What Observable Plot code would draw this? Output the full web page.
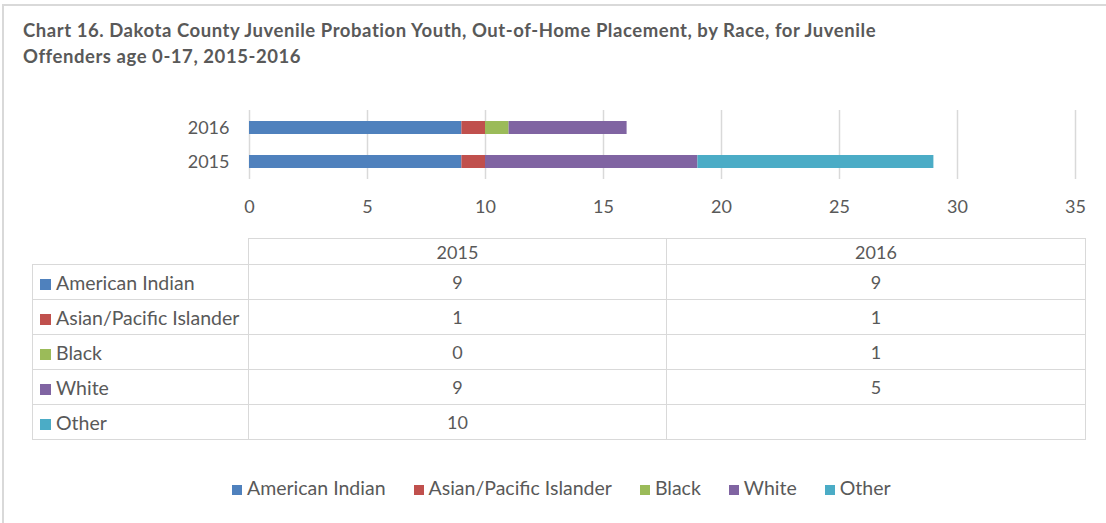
<!DOCTYPE html>
<html><head><meta charset="utf-8">
<script src="https://cdn.jsdelivr.net/npm/d3@7"></script>
<script src="https://cdn.jsdelivr.net/npm/@observablehq/plot@0.6"></script>
<style>
body{margin:0;background:#fff;font-family:Lato,"Open Sans",sans-serif;color:#595959;}
#wrap{position:relative;width:1106px;height:523px;overflow:hidden;background:#fff;}
#frame{position:absolute;left:2px;top:4px;right:-4px;bottom:-4px;border-top:2px solid #d9d9d9;border-left:2px solid #d9d9d9;}
#title{position:absolute;left:23px;top:17px;font-weight:bold;font-size:18.5px;letter-spacing:0.55px;line-height:26px;color:#595959;white-space:nowrap;}
#chart{position:absolute;left:0;top:100px;}
#tbl{position:absolute;left:32px;top:238px;border-collapse:collapse;font-size:18px;color:#595959;table-layout:fixed;}
#tbl td{border:1.5px solid #d9d9d9;padding:0;text-align:center;white-space:nowrap;}
#tbl tr.h td{height:25px;}
#tbl tr.r td{height:34px;}
#tbl td.lab{text-align:left;padding-left:7px;font-size:19.5px;}
#tbl td.blank{border-top:none;border-left:none;}
.sw{display:inline-block;width:11px;height:11px;margin-right:5px;vertical-align:0px;}
#legend{position:absolute;left:232px;top:476px;display:flex;font-size:19.5px;color:#595959;}
#legend .it{margin-right:28px;white-space:nowrap;}
#legend .sw{width:10px;height:10px;}
</style>
</head><body>
<div id="wrap">
  <div id="frame"></div>
  <div id="title">Chart 16. Dakota County Juvenile Probation Youth, Out-of-Home Placement, by Race, for Juvenile<br>Offenders age 0-17, 2015-2016</div>
  <div id="chart"></div>
  <table id="tbl"></table>
  <div id="legend"></div>
</div>
<script>
const years = ["2015", "2016"];
const barOrder = ["2016", "2015"];
const races = ["American Indian", "Asian/Pacific Islander", "Black", "White", "Other"];
const colors = ["#4f81bd", "#c0504d", "#9bbb59", "#8064a2", "#4bacc6"];
const values2015 = [9, 1, 0, 9, 10];
const values2016 = [9, 1, 1, 5, null];
const xTicks = [0, 5, 10, 15, 20, 25, 30, 35];

const byYear = {"2015": values2015, "2016": values2016};
const data = [];
for (const y of years) races.forEach((r, i) => {
  const v = byYear[y][i];
  if (v != null) data.push({year: y, race: r, value: v});
});

const chart = Plot.plot({
  width: 1106, height: 120,
  marginLeft: 249, marginRight: 31, marginTop: 10, marginBottom: 41,
  style: {fontFamily: "Lato, 'Open Sans', sans-serif", fontSize: "18px", color: "#595959", background: "transparent"},
  x: {domain: [0, 35], label: null},
  y: {domain: barOrder, paddingInner: 0.62, paddingOuter: 0.31, label: null},
  color: {domain: races, range: colors},
  marks: [
    Plot.ruleX(xTicks, {stroke: "#d9d9d9", strokeWidth: 1.5}),
    Plot.barX(data, Plot.stackX({x: "value", y: "year", fill: "race", order: races})),
    Plot.axisX({ticks: xTicks, tickSize: 0, tickPadding: 21, fill: "#595959", label: null}),
    Plot.axisY({tickSize: 0, tickPadding: 20, fill: "#595959", label: null})
  ]
});
document.getElementById("chart").appendChild(chart);

// data table
const tbl = document.getElementById("tbl");
const cg = document.createElement("colgroup");
[216, 418, 419].forEach(w => { const c = document.createElement("col"); c.style.width = w + "px"; cg.appendChild(c); });
tbl.appendChild(cg);
const hr = document.createElement("tr"); hr.className = "h";
const b = document.createElement("td"); b.className = "blank"; hr.appendChild(b);
years.forEach(y => { const td = document.createElement("td"); td.textContent = y; hr.appendChild(td); });
tbl.appendChild(hr);
races.forEach((r, i) => {
  const tr = document.createElement("tr"); tr.className = "r";
  const lab = document.createElement("td"); lab.className = "lab";
  const sw = document.createElement("span"); sw.className = "sw"; sw.style.background = colors[i];
  lab.appendChild(sw); lab.appendChild(document.createTextNode(r));
  tr.appendChild(lab);
  years.forEach(y => {
    const td = document.createElement("td");
    const v = byYear[y][i];
    td.textContent = v == null ? "" : v;
    tr.appendChild(td);
  });
  tbl.appendChild(tr);
});

// legend
const lg = document.getElementById("legend");
races.forEach((r, i) => {
  const it = document.createElement("span"); it.className = "it";
  const sw = document.createElement("span"); sw.className = "sw"; sw.style.background = colors[i];
  it.appendChild(sw); it.appendChild(document.createTextNode(r));
  lg.appendChild(it);
});
</script>
</body></html>
